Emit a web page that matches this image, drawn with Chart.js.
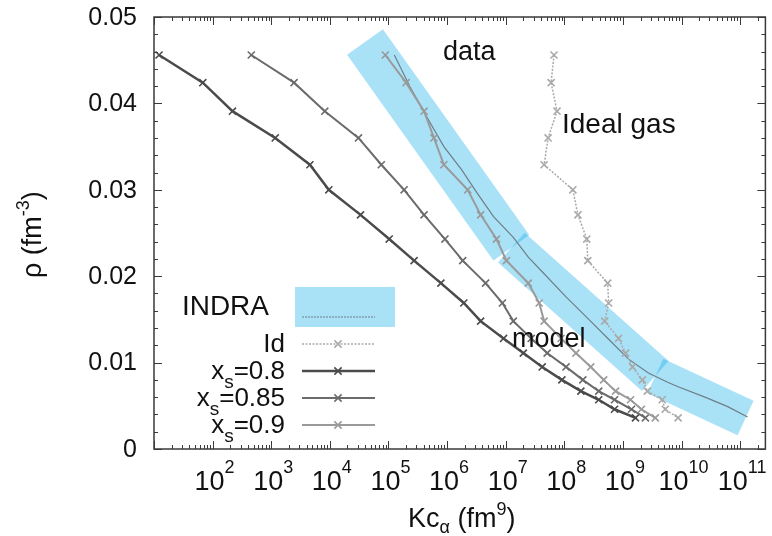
<!DOCTYPE html>
<html>
<head>
<meta charset="utf-8">
<script src="https://cdn.jsdelivr.net/npm/chart.js@4"></script>
<style>
  html, body { margin: 0; padding: 0; background: #fff; }
  canvas { display: block; }
</style>
</head>
<body>
<canvas id="chart" width="772" height="536"></canvas>
<script>
// density grid shared by the model curves (fm^-3)
const rhoModel = [0.0456, 0.0424, 0.0391, 0.0360, 0.0329, 0.0300, 0.0271, 0.0243, 0.0218, 0.0192,
                  0.0169, 0.0148, 0.0128, 0.0111, 0.0095, 0.0080, 0.0067, 0.0057, 0.0046, 0.0036];

// Kc_alpha (fm^9) for each model curve
const kcXs08 = [1.22e1, 6.8e1, 2.18e2, 1.17e3, 4.57e3, 9.6e3, 3.34e4, 1.03e5, 2.74e5, 7.85e5,
                1.93e6, 3.74e6, 9.2e6, 2.0e7, 4.2e7, 9.1e7, 1.92e8, 3.87e8, 7.2e8, 1.64e9];
const kcXs085 = [4.57e2, 2.45e3, 8.2e3, 3.08e4, 7.56e4, 1.85e5, 4.05e5, 9.2e5, 1.85e6, 4.54e6,
                 8.8e6, 1.35e7, 2.73e7, 5.1e7, 1.07e8, 2.07e8, 3.87e8, 7.2e8, 1.4e9, 2.42e9];
const kcXs09 = [8.85e4, 2.0e5, 4.05e5, 5.97e5, 8.83e5, 2.25e6, 3.74e6, 6.97e6, 1.03e7, 2.43e7,
                3.73e7, 4.53e7, 8.8e7, 1.58e8, 2.83e8, 4.7e8, 7.5e8, 1.35e9, 2.07e9, 3.57e9];
const kcIdeal = [6.68e7, 5.96e7, 7.52e7, 5.3e7, 4.53e7, 1.4e8, 1.71e8, 2.42e8, 2.52e8, 5.5e8,
                 5.71e8, 4.89e8, 8.43e8, 1.11e9, 1.46e9, 2.15e9, 2.61e9, 4.69e9, 5.27e9, 8.75e9];

// INDRA data
const indraKc = [1.26e5, 2.34e5, 4.92e5, 8.83e5, 1.78e6, 3.2e6, 6.21e6, 1.35e7, 2.43e7, 4.36e7,
                 1.07e8, 2.62e8, 5.71e8, 1.25e9, 2.72e9, 5.93e9, 8.75e9, 2.51e10, 6.15e10, 1.34e11];
const indraRho = [0.0456, 0.0419, 0.0380, 0.0350, 0.0323, 0.0297, 0.0269, 0.0245, 0.0222, 0.0204,
                  0.0176, 0.0150, 0.0127, 0.0104, 0.0088, 0.0077, 0.0072, 0.0060, 0.0049, 0.0037];

// INDRA uncertainty band, centre points of its three pieces
const bandKc = [3.98e4, 1.25e7, 3.57e9, 1.24e11];
const bandRho = [0.0471, 0.0233, 0.00845, 0.0036];

// axes
const xMin = 10, xMax = 2.7e11;
const xMajorExp = [2, 3, 4, 5, 6, 7, 8, 9, 10, 11];
const yTicks = [0, 0.01, 0.02, 0.03, 0.04, 0.05];
const yTickLabels = ['0', '0.01', '0.02', '0.03', '0.04', '0.05'];

const FONT = '"Liberation Sans", Arial, sans-serif';
const BAND = 'rgba(30,175,235,0.38)';

const pts = (xs, ys) => xs.map((v, i) => ({ x: v, y: ys[i] }));

const bandPiece = (i, w) => ({
  label: 'band' + i,
  data: pts(bandKc.slice(i, i + 2), bandRho.slice(i, i + 2)),
  borderColor: BAND,
  borderWidth: w,
  borderCapStyle: 'butt',
  pointRadius: 0,
  order: 10
});

const model = (label, xs, color, width, dash) => ({
  label: label,
  data: pts(xs, rhoModel),
  borderColor: color,
  borderWidth: width,
  borderDash: dash || [],
  pointStyle: 'crossRot',
  pointRadius: 5,
  pointBorderWidth: 1.6,
  pointBorderColor: color,
  order: 1
});

const datasets = [
  bandPiece(0, 44),
  bandPiece(1, 40),
  bandPiece(2, 38),
  {
    label: 'INDRA',
    data: pts(indraKc, indraRho),
    borderColor: '#6f7f86',
    borderWidth: 1.2,
    pointRadius: 0,
    order: 5
  },
  model('Id', kcIdeal, '#a9a9a9', 1.5, [2, 1.5]),
  model('x_s=0.9', kcXs09, '#9a9a9a', 2),
  model('x_s=0.85', kcXs085, '#6b6b6b', 2),
  model('x_s=0.8', kcXs08, '#4b4b4b', 2.5)
];

// draw text with sub/superscript pieces: [text, size, dy]
function runs(ctx, x, y, parts) {
  let cx = x;
  parts.forEach(([t, size, dy]) => {
    ctx.font = size + 'px ' + FONT;
    ctx.fillText(t, cx, y + dy);
    cx += ctx.measureText(t).width;
  });
  return cx - x;
}
function runsWidth(ctx, parts) {
  let w = 0;
  parts.forEach(([t, size]) => {
    ctx.font = size + 'px ' + FONT;
    w += ctx.measureText(t).width;
  });
  return w;
}

function cross(ctx, x, y, r) {
  ctx.beginPath();
  ctx.moveTo(x - r, y - r); ctx.lineTo(x + r, y + r);
  ctx.moveTo(x - r, y + r); ctx.lineTo(x + r, y - r);
  ctx.stroke();
}

const decorations = {
  id: 'decorations',
  afterDatasetsDraw(chart) {
    const { ctx, chartArea: a, scales: { x, y } } = chart;
    ctx.save();

    // frame
    ctx.strokeStyle = '#3a3a3a';
    ctx.lineWidth = 1.5;
    ctx.strokeRect(a.left, a.top, a.right - a.left, a.bottom - a.top);

    // x ticks, inward on bottom and top
    ctx.lineWidth = 1;
    for (let d = 1; d <= 11; d++) {
      for (let k = 1; k <= 9; k++) {
        const v = k * Math.pow(10, d);
        if (v < xMin || v > xMax) continue;
        const px = Math.round(x.getPixelForValue(v)) + 0.5;
        const len = k === 1 ? 8 : 4;
        ctx.beginPath();
        ctx.moveTo(px, a.bottom); ctx.lineTo(px, a.bottom - len);
        ctx.moveTo(px, a.top); ctx.lineTo(px, a.top + len);
        ctx.stroke();
      }
    }
    // y ticks, inward on left and right
    for (let i = 0; i <= 25; i++) {
      const v = i * 0.002;
      const py = Math.round(y.getPixelForValue(v)) + 0.5;
      const len = i % 5 === 0 ? 8 : 4;
      ctx.beginPath();
      ctx.moveTo(a.left, py); ctx.lineTo(a.left + len, py);
      ctx.moveTo(a.right, py); ctx.lineTo(a.right - len, py);
      ctx.stroke();
    }

    ctx.fillStyle = '#111';
    // y tick labels
    ctx.font = '25px ' + FONT;
    ctx.textAlign = 'right';
    ctx.textBaseline = 'middle';
    yTicks.forEach((v, i) => {
      ctx.fillText(yTickLabels[i], a.left - 17, y.getPixelForValue(v) + 1);
    });

    // x tick labels 10^n
    ctx.textAlign = 'left';
    ctx.textBaseline = 'alphabetic';
    xMajorExp.forEach(e => {
      const parts = [['10', 27, 0], [String(e), 18, -17]];
      const w = runsWidth(ctx, parts);
      runs(ctx, x.getPixelForValue(Math.pow(10, e)) - w / 2 + 2, a.bottom + 41, parts);
    });

    // x axis title
    runs(ctx, 408, 527, [['Kc', 27, 0], ['\u03b1', 18, 6], [' (fm', 27, 0], ['9', 18, -12], [')', 27, 0]]);

    // y axis title, rotated
    ctx.save();
    ctx.translate(41, 278);
    ctx.rotate(-Math.PI / 2);
    runs(ctx, 0, 0, [['\u03c1 (fm', 27, 0], ['-3', 18, -12], [')', 27, 0]]);
    ctx.restore();

    // annotations
    ctx.font = '27px ' + FONT;
    ctx.fillText('data', 443, 60);
    ctx.font = '28px ' + FONT;
    ctx.fillText('Ideal gas', 562, 133);
    ctx.font = '27px ' + FONT;
    ctx.fillText('model', 512, 347);

    // legend
    ctx.fillStyle = BAND;
    ctx.fillRect(295, 287, 100, 40);
    ctx.strokeStyle = '#6f7f86';
    ctx.lineWidth = 1.2;
    ctx.setLineDash([2, 1]);
    ctx.beginPath(); ctx.moveTo(302, 317); ctx.lineTo(375, 317); ctx.stroke();
    ctx.setLineDash([]);

    ctx.fillStyle = '#111';
    ctx.textAlign = 'right';
    ctx.font = '28px ' + FONT;
    ctx.fillText('INDRA', 269, 315);

    const rows = [
      { ds: 4, y: 344, parts: [['Id', 26, 0]] },
      { ds: 7, y: 371, parts: [['x', 26, 0], ['s', 19, 9], ['=0.8', 26, 0]] },
      { ds: 6, y: 398, parts: [['x', 26, 0], ['s', 19, 9], ['=0.85', 26, 0]] },
      { ds: 5, y: 425, parts: [['x', 26, 0], ['s', 19, 9], ['=0.9', 26, 0]] }
    ];
    ctx.textAlign = 'left';
    rows.forEach(r => {
      const d = chart.data.datasets[r.ds];
      const w = runsWidth(ctx, r.parts);
      runs(ctx, 285 - w, r.y + 8, r.parts);
      ctx.strokeStyle = d.borderColor;
      ctx.lineWidth = d.borderWidth;
      ctx.setLineDash(d.borderDash || []);
      ctx.beginPath(); ctx.moveTo(302, r.y); ctx.lineTo(375, r.y); ctx.stroke();
      ctx.setLineDash([]);
      ctx.lineWidth = d.pointBorderWidth;
      cross(ctx, 338, r.y, 3.6);
    });

    ctx.restore();
  }
};

new Chart(document.getElementById('chart'), {
  type: 'line',
  data: { datasets: datasets },
  options: {
    responsive: false,
    animation: false,
    events: [],
    layout: { padding: { left: 154, right: 1, top: 17, bottom: 87 } },
    elements: { line: { tension: 0 } },
    scales: {
      x: { type: 'logarithmic', min: xMin, max: xMax, display: false },
      y: { type: 'linear', min: 0, max: 0.05, display: false }
    },
    plugins: {
      legend: { display: false },
      tooltip: { enabled: false }
    }
  },
  plugins: [decorations]
});
</script>
</body>
</html>
